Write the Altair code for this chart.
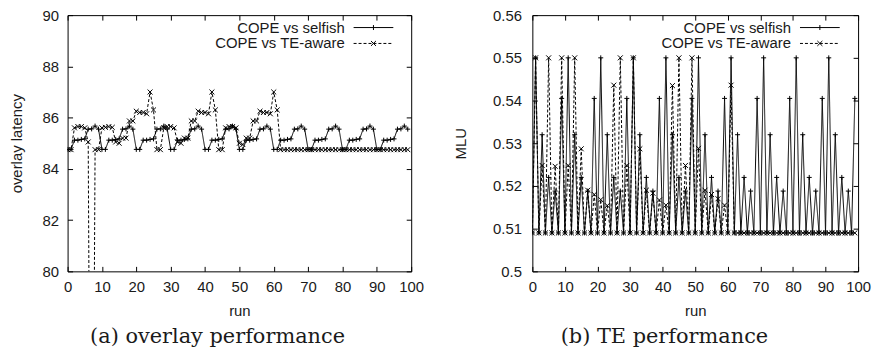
import altair as alt
import pandas as pd

runs = list(range(100))
series_names = ["COPE vs selfish", "COPE vs TE-aware"]

# (a) overlay latency per run
lat_selfish = [
    84.76, 84.76, 85.12, 85.12, 85.15, 85.17, 85.55, 85.56, 85.67, 85.55,
    84.76, 84.76, 85.12, 85.12, 85.15, 85.17, 85.55, 85.56, 85.67, 85.55,
    84.76, 84.76, 85.12, 85.12, 85.15, 85.17, 85.55, 85.56, 85.67, 85.55,
    84.76, 84.76, 85.12, 85.12, 85.15, 85.17, 85.55, 85.56, 85.67, 85.55,
    84.76, 84.76, 85.12, 85.12, 85.15, 85.17, 85.55, 85.56, 85.67, 85.55,
    84.76, 84.76, 85.12, 85.12, 85.15, 85.17, 85.55, 85.56, 85.67, 85.55,
    84.76, 84.76, 85.12, 85.12, 85.15, 85.17, 85.55, 85.56, 85.67, 85.55,
    84.76, 84.76, 85.12, 85.12, 85.15, 85.17, 85.55, 85.56, 85.67, 85.55,
    84.76, 84.76, 85.12, 85.12, 85.15, 85.17, 85.55, 85.56, 85.67, 85.55,
    84.76, 84.76, 85.12, 85.12, 85.15, 85.17, 85.55, 85.56, 85.67, 85.55,
]
lat_te = [
    84.75, 84.75, 85.60, 85.65, 85.65, 85.60, 85.05, 60.00, 84.75, 84.75,
    85.60, 85.62, 85.65, 85.62, 85.05, 85.00, 85.20, 85.20, 85.87, 85.87,
    86.25, 86.20, 86.20, 86.15, 87.00, 86.30, 84.75, 84.75, 85.60, 85.65,
    85.65, 85.60, 85.05, 85.00, 85.20, 85.20, 85.87, 85.87, 86.25, 86.20,
    86.20, 86.15, 87.00, 86.30, 84.75, 84.75, 85.60, 85.65, 85.65, 85.60,
    85.00, 84.95, 85.20, 85.20, 85.87, 85.87, 86.25, 86.20, 86.20, 86.15,
    87.00, 86.30, 84.75, 84.75, 84.75, 84.75, 84.75, 84.75, 84.75, 84.75,
    84.75, 84.75, 84.75, 84.75, 84.75, 84.75, 84.75, 84.75, 84.75, 84.75,
    84.75, 84.75, 84.75, 84.75, 84.75, 84.75, 84.75, 84.75, 84.75, 84.75,
    84.75, 84.75, 84.75, 84.75, 84.75, 84.75, 84.75, 84.75, 84.75, 84.75,
]

# (b) MLU per run
mlu_selfish = [
    0.509, 0.550, 0.509, 0.532, 0.509, 0.522, 0.509, 0.5188, 0.509, 0.5405,
    0.509, 0.550, 0.509, 0.532, 0.509, 0.522, 0.509, 0.5188, 0.509, 0.5405,
    0.509, 0.550, 0.509, 0.532, 0.509, 0.522, 0.509, 0.5188, 0.509, 0.5405,
    0.509, 0.550, 0.509, 0.532, 0.509, 0.522, 0.509, 0.5188, 0.509, 0.5405,
    0.509, 0.550, 0.509, 0.532, 0.509, 0.522, 0.509, 0.5188, 0.509, 0.5405,
    0.509, 0.550, 0.509, 0.532, 0.509, 0.522, 0.509, 0.5188, 0.509, 0.5405,
    0.509, 0.550, 0.509, 0.532, 0.509, 0.522, 0.509, 0.5188, 0.509, 0.5405,
    0.509, 0.550, 0.509, 0.532, 0.509, 0.522, 0.509, 0.5188, 0.509, 0.5405,
    0.509, 0.550, 0.509, 0.532, 0.509, 0.522, 0.509, 0.5188, 0.509, 0.5405,
    0.509, 0.550, 0.509, 0.532, 0.509, 0.522, 0.509, 0.5188, 0.509, 0.5405,
]
mlu_te = [
    0.509, 0.550, 0.509, 0.5248, 0.509, 0.550, 0.509, 0.5246, 0.509, 0.550,
    0.509, 0.5248, 0.509, 0.550, 0.509, 0.5287, 0.509, 0.519, 0.509, 0.518,
    0.509, 0.5168, 0.509, 0.5154, 0.509, 0.5436, 0.509, 0.550, 0.509, 0.5248,
    0.509, 0.550, 0.509, 0.5287, 0.509, 0.519, 0.509, 0.5183, 0.509, 0.5167,
    0.509, 0.5155, 0.509, 0.5435, 0.509, 0.550, 0.509, 0.5248, 0.509, 0.550,
    0.509, 0.5288, 0.509, 0.519, 0.509, 0.518, 0.509, 0.517, 0.509, 0.5155,
    0.509, 0.5436, 0.509, 0.509, 0.509, 0.509, 0.509, 0.509, 0.509, 0.509,
    0.509, 0.509, 0.509, 0.509, 0.509, 0.509, 0.509, 0.509, 0.509, 0.509,
    0.509, 0.509, 0.509, 0.509, 0.509, 0.509, 0.509, 0.509, 0.509, 0.509,
    0.509, 0.509, 0.509, 0.509, 0.509, 0.509, 0.509, 0.509, 0.509, 0.509,
]

x_ticks = [0, 10, 20, 30, 40, 50, 60, 70, 80, 90, 100]
lat_ticks = [80, 82, 84, 86, 88, 90]
mlu_ticks = [0.50, 0.51, 0.52, 0.53, 0.54, 0.55, 0.56]

# marker / legend-sample shapes (unit paths, scaled by symbol size)
PLUS = "M-1,0L1,0M0,-1L0,1"
CROSS = "M-1,-1L1,1M-1,1L1,-1"
LEG_SOLID = "M-8,0L8,0M0,-1L0,1"
_dash = "".join(f"M{x0:.2f},0L{x0 + 1.2:.2f},0" for x0 in [-8 + 2 * k for k in range(8)])
LEG_DASH = _dash + "M-1,-1L1,1M-1,1L1,-1"

FONT = "Liberation Sans"
TXT = "#1a1a1a"


def make_df(a, b):
    return pd.DataFrame({
        "run": runs + runs,
        "value": a + b,
        "series": [series_names[0]] * len(a) + [series_names[1]] * len(b),
    })


def panel(df, width, ydomain, yticks, yfmt, ytitle, ytitlepad, ylabpad,
          caption, cap_dx, legx, legy):
    xs = alt.Scale(domain=[0, 100], nice=False, zero=False)
    ys = alt.Scale(domain=ydomain, nice=False, zero=False)
    base = alt.Chart(df)
    lines = base.mark_line(clip=True, strokeWidth=1, color="black").encode(
        x=alt.X("run:Q", scale=xs, axis=alt.Axis(
            values=x_ticks, format="d", title="run", tickSize=5, offset=-5,
            labelPadding=8, titlePadding=9, domain=False, grid=False,
            labelFlush=False, labelOverlap=False)),
        y=alt.Y("value:Q", scale=ys, axis=alt.Axis(
            values=yticks, format=yfmt, title=ytitle, tickSize=5, offset=-5,
            labelPadding=ylabpad, titlePadding=ytitlepad, domain=False,
            grid=False, labelOverlap=False)),
        strokeDash=alt.StrokeDash("series:N", scale=alt.Scale(
            domain=series_names, range=[[1, 0], [3, 2]]), legend=None),
    )
    points = base.mark_point(clip=True, filled=False, size=25, opacity=1,
                             strokeWidth=1, color="black").encode(
        x=alt.X("run:Q", scale=xs, axis=None),
        y=alt.Y("value:Q", scale=ys, axis=None),
        shape=alt.Shape("series:N", scale=alt.Scale(
            domain=series_names, range=[PLUS, CROSS]), legend=None),
    )
    leg = base.transform_filter("false").mark_point(
        filled=False, size=25, opacity=1, strokeWidth=1, color="black").encode(
        x=alt.X("run:Q", scale=xs, axis=None),
        y=alt.Y("value:Q", scale=ys, axis=None),
        shape=alt.Shape("series:N", scale=alt.Scale(
            domain=series_names, range=[LEG_SOLID, LEG_DASH]),
            legend=alt.Legend(
                title=None, orient="none", legendX=legx, legendY=legy,
                labelAlign="right", labelOffset={"expr": "-36.5"},
                labelFont=FONT,
                labelFontSize=15, labelColor=TXT, labelLimit=400,
                symbolSize=25, symbolStrokeWidth=1, symbolStrokeColor="black",
                symbolOffset=0, rowPadding=0, padding=0)),
    )
    mirror = base.transform_filter("false").mark_point(opacity=0).encode(
        x=alt.X("run:Q", scale=xs, axis=alt.Axis(
            orient="top", values=x_ticks, labels=False, title=None,
            tickSize=5, offset=-5, domain=False, grid=False)),
        y=alt.Y("value:Q", scale=ys, axis=alt.Axis(
            orient="right", values=yticks, labels=False, title=None,
            tickSize=5, offset=-5, domain=False, grid=False)),
    )
    return alt.layer(lines, points, leg, mirror).resolve_scale(
        x="independent", y="independent", shape="independent"
    ).properties(
        width=width, height=258,
        title=alt.TitleParams(
            text=caption, orient="bottom", anchor="middle", frame="group",
            dx=cap_dx, offset=8, font="DejaVu Serif", fontSize=21,
            fontWeight="normal", color=TXT),
    )


left = panel(make_df(lat_selfish, lat_te), 346, [80, 90], lat_ticks, "d",
             "overlay latency", 18, 9, "(a) overlay performance", -22,
             300.5, 5)
right = panel(make_df(mlu_selfish, mlu_te), 328, [0.5, 0.56], mlu_ticks,
              ".2~f", "MLU", 24, 11, "(b) TE performance", -31, 282, 5)

chart = alt.hconcat(left, right, spacing=122, bounds="flush").properties(
    padding={"left": 0, "top": -2, "right": 0, "bottom": 0}
).configure_axis(
    labelFont=FONT, labelFontSize=15, labelColor=TXT,
    titleFont=FONT, titleFontSize=15, titleFontWeight="normal",
    titleColor=TXT, tickColor="black", tickWidth=1,
).configure_view(stroke="black", strokeWidth=1)

chart.save("out.html", embed_options={"renderer": "svg", "actions": False})
